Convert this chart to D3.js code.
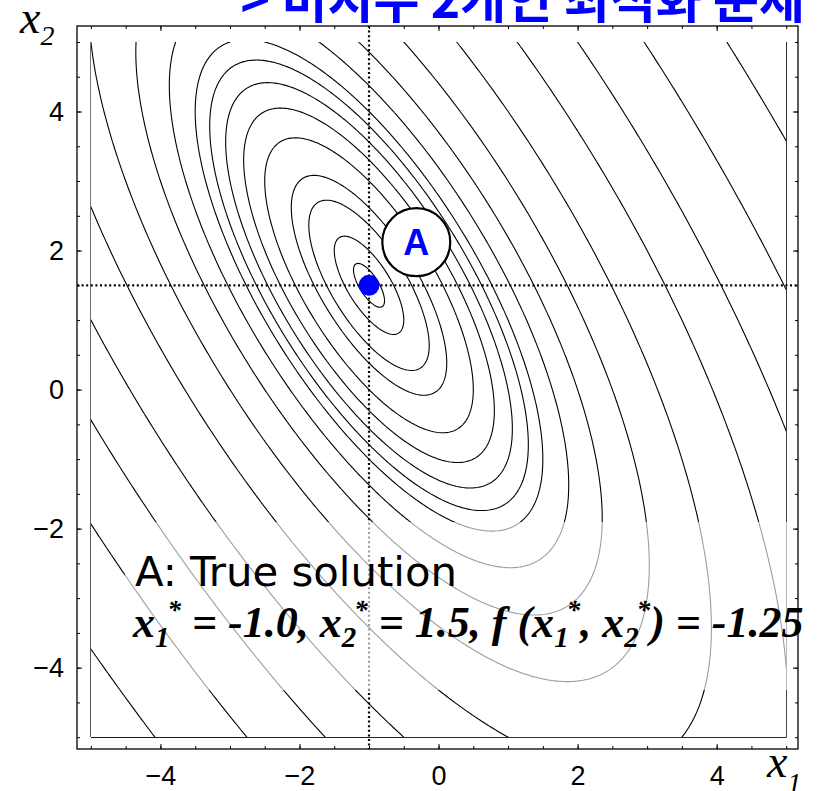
<!DOCTYPE html>
<html>
<head>
<meta charset="utf-8">
<script src="https://cdn.jsdelivr.net/npm/d3@7"></script>
<style>
  html, body { margin: 0; padding: 0; background: #fff; }
  svg { display: block; }
</style>
</head>
<body>
<svg id="chart" width="820" height="791"></svg>
<script>
// Objective f(x1,x2) = 1*x1 - 1*x2 + 2*x1^2 + 2*x1*x2 + 1*x2^2
const coefTerms  = ["x1", "x2", "x1^2", "x1*x2", "x2^2"];
const coefValues = [1, -1, 2, 2, 1];

// Contour levels drawn
const contourLevels = [-1.2, -1, -0.5, 0, 1, 2, 3, 4, 5, 7, 10, 15, 23, 35, 50, 70, 100];

// Plotted region of the design space
const plotDomain = [-5, 5];

// Optimum
const solution = [-1.0, 1.5];
const solutionValue = -1.25;

// Axis ticks
const tickValues = [-4, -2, 0, 2, 4];
const tickLabels = ["\u22124", "\u22122", "0", "2", "4"];
const minorTickValues = d3.range(-5, 5.001, 0.5);

// Callout "A"
const calloutPos = [-0.32, 2.12];
const calloutText = "A";

const titleText = "> 미지수 2개인 최적화 문제";
const noteLine1 = "A: True solution";

function f(x1, x2) {
  const t = [x1, x2, x1 * x1, x1 * x2, x2 * x2];
  return d3.sum(t, (v, i) => v * coefValues[i]);
}

const svg = d3.select("#chart");

const x = d3.scaleLinear().domain([-5.2, 5.17]).range([77, 798]);
const y = d3.scaleLinear().domain([-5.17, 5.23]).range([749, 26]);

// ---- contour lines ----
const n = 401;
const step = (plotDomain[1] - plotDomain[0]) / (n - 1);
const grid = new Array(n * n);
for (let j = 0; j < n; j++) {
  for (let i = 0; i < n; i++) {
    grid[j * n + i] = f(plotDomain[0] + i * step, plotDomain[0] + j * step);
  }
}
const contours = d3.contours().size([n, n]).thresholds(contourLevels)(grid);

const proj = d3.geoTransform({
  point(px, py) {
    this.stream.point(x(plotDomain[0] + (px - 0.5) * step), y(plotDomain[0] + (py - 0.5) * step));
  }
});
const path = d3.geoPath(proj);

svg.append("clipPath").attr("id", "dataClip")
  .append("rect")
  .attr("x", x(plotDomain[0])).attr("y", y(plotDomain[1]))
  .attr("width", x(plotDomain[1]) - x(plotDomain[0]))
  .attr("height", y(plotDomain[0]) - y(plotDomain[1]));

svg.append("g").attr("clip-path", "url(#dataClip)")
  .selectAll("path").data(contours).join("path")
  .attr("d", path)
  .attr("fill", "none")
  .attr("stroke", "#000")
  .attr("stroke-width", 1.1);

// ---- dotted guide lines through the optimum ----
const guides = svg.append("g").attr("stroke", "#000").attr("stroke-width", 2.2).attr("stroke-dasharray", "2,2.6");
guides.append("line")
  .attr("x1", x(solution[0])).attr("x2", x(solution[0]))
  .attr("y1", y.range()[1]).attr("y2", y.range()[0]);
guides.append("line")
  .attr("x1", x.range()[0]).attr("x2", x.range()[1])
  .attr("y1", y(solution[1])).attr("y2", y(solution[1]));

// ---- translucent note panel ----
svg.append("rect")
  .attr("x", 125).attr("y", 522).attr("width", 680).attr("height", 168)
  .attr("fill", "#fff").attr("fill-opacity", 0.62);

// ---- frame and ticks ----
svg.append("rect")
  .attr("x", x.range()[0]).attr("y", y.range()[1])
  .attr("width", x.range()[1] - x.range()[0])
  .attr("height", y.range()[0] - y.range()[1])
  .attr("fill", "none").attr("stroke", "#000").attr("stroke-width", 1.3);

const sides = [
  { make: () => d3.axisBottom(x), tr: `translate(0,${y.range()[0]})` },
  { make: () => d3.axisTop(x),    tr: `translate(0,${y.range()[1]})` },
  { make: () => d3.axisLeft(y),   tr: `translate(${x.range()[0]},0)` },
  { make: () => d3.axisRight(y),  tr: `translate(${x.range()[1]},0)` }
];
sides.forEach(s => {
  svg.append("g").attr("transform", s.tr)
    .call(s.make().tickValues(minorTickValues).tickSize(-3).tickFormat(""))
    .call(a => a.select(".domain").remove());
  svg.append("g").attr("transform", s.tr)
    .call(s.make().tickValues(tickValues).tickSize(-5).tickFormat(""))
    .call(a => a.select(".domain").remove());
});

// tick labels
const labelFont = "'Liberation Sans', Arial, sans-serif";
svg.append("g").attr("transform", `translate(0,${y.range()[0]})`)
  .call(d3.axisBottom(x).tickValues(tickValues).tickFormat((d, i) => tickLabels[i]).tickSize(0).tickPadding(17))
  .call(a => a.select(".domain").remove())
  .call(a => a.selectAll("text").attr("font-size", 27).attr("font-family", labelFont).attr("fill", "#000"));
svg.append("g").attr("transform", `translate(${x.range()[0]},0)`)
  .call(d3.axisLeft(y).tickValues(tickValues).tickFormat((d, i) => tickLabels[i]).tickSize(0).tickPadding(13))
  .call(a => a.select(".domain").remove())
  .call(a => a.selectAll("text").attr("font-size", 27).attr("font-family", labelFont).attr("fill", "#000"));

// axis titles
const serif = "'Liberation Serif', 'Times New Roman', serif";
const ax2 = svg.append("text").attr("x", 20).attr("y", 33)
  .attr("font-family", serif).attr("font-style", "italic").attr("font-size", 46);
ax2.append("tspan").text("x");
ax2.append("tspan").attr("font-size", 28).attr("dy", 12).text("2");

const ax1 = svg.append("text").attr("x", 767).attr("y", 777)
  .attr("font-family", serif).attr("font-style", "italic").attr("font-size", 46);
ax1.append("tspan").text("x");
ax1.append("tspan").attr("font-size", 28).attr("dy", 15).text("1");

// ---- optimum marker and callout ----
svg.append("circle")
  .attr("cx", x(solution[0])).attr("cy", y(solution[1])).attr("r", 10.5)
  .attr("fill", "#0000ff");

svg.append("circle")
  .attr("cx", x(calloutPos[0])).attr("cy", y(calloutPos[1])).attr("r", 34)
  .attr("fill", "#fff").attr("stroke", "#000").attr("stroke-width", 2.2);
svg.append("text")
  .attr("x", x(calloutPos[0])).attr("y", y(calloutPos[1]) + 13)
  .attr("text-anchor", "middle")
  .attr("font-family", labelFont).attr("font-weight", "bold").attr("font-size", 36)
  .attr("fill", "#0000ff").text(calloutText);

// ---- note text ----
svg.append("text")
  .attr("x", 135).attr("y", 586)
  .attr("font-family", "'DejaVu Sans Condensed', 'DejaVu Sans', sans-serif")
  .attr("font-size", 41)
  .attr("textLength", 322).attr("lengthAdjust", "spacingAndGlyphs")
  .attr("fill", "#000").text(noteLine1);

const eq = svg.append("text").attr("x", 133).attr("y", 637)
  .attr("font-family", serif).attr("font-weight", "bold").attr("font-style", "italic")
  .attr("font-size", 44).attr("fill", "#000");
const eqParts = [
  { t: "x" }, { t: "1", k: "sub" }, { t: "*", k: "sup" },
  { t: " = " + solution[0].toFixed(1) + ", x" }, { t: "2", k: "sub" }, { t: "*", k: "sup" },
  { t: " = " + solution[1].toFixed(1) + ", f (x" }, { t: "1", k: "sub" }, { t: "*", k: "sup" },
  { t: ", x" }, { t: "2", k: "sub" }, { t: "*", k: "sup" },
  { t: ") = " + solutionValue.toFixed(2) }
];
let shift = 0;
eqParts.forEach(p => {
  const target = p.k === "sub" ? 10 : p.k === "sup" ? -18 : 0;
  const ts = eq.append("tspan").attr("dy", target - shift).text(p.t);
  if (p.k === "sub") ts.attr("font-size", 29);
  if (p.k === "sup") ts.attr("font-size", 27).attr("dx", -2);
  shift = target;
});

// ---- title ----
svg.append("text")
  .attr("x", 805).attr("y", 18).attr("text-anchor", "end")
  .attr("font-family", "'Noto Sans CJK KR', sans-serif").attr("font-weight", "bold")
  .attr("font-size", 50).attr("fill", "#0000ff")
  .text(titleText);
</script>
</body>
</html>
